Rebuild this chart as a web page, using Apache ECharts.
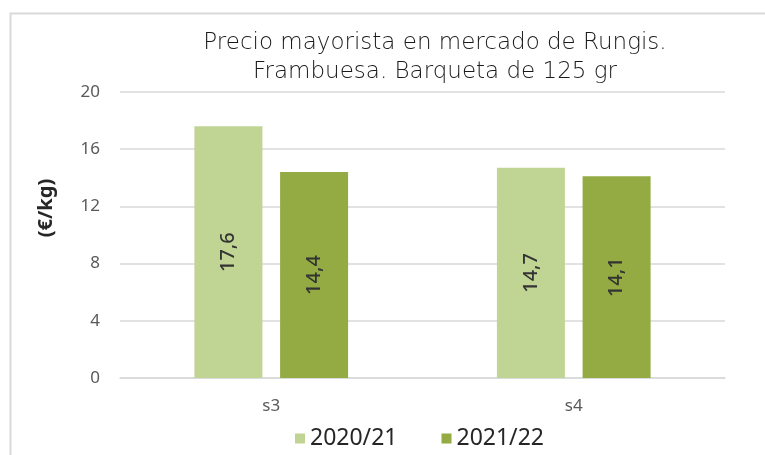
<!DOCTYPE html>
<html><head><meta charset="utf-8">
<script src="https://cdn.jsdelivr.net/npm/echarts@6/dist/echarts.min.js"></script>
<style>html,body{margin:0;padding:0;background:#fff}#c{width:765px;height:455px}</style>
</head><body><div id="c"></div>
<script>
const categories = ['s3', 's4'];
const seriesNames = ['2020/21', '2021/22'];
const values2020 = [17.6, 14.7];
const values2021 = [14.4, 14.1];
const yTicks = [0, 4, 8, 12, 16, 20];

const chart = echarts.init(document.getElementById('c'), null, {renderer: 'canvas'});
const lbl = {
  show: true, position: 'inside', rotate: 90,
  color: '#333', fontSize: 20, fontFamily: 'Noto Sans', fontWeight: 500,
  formatter: p => String(p.value).replace('.', ',')
};
chart.setOption({
  animation: false,
  graphic: [{
    type: 'rect', left: 8, top: 11,
    shape: {width: 800, height: 500},
    style: {fill: 'none', stroke: '#d9d9d9', lineWidth: 2}
  }],
  title: {
    text: 'Precio mayorista en mercado de Rungis.\nFrambuesa. Barqueta de 125 gr',
    left: 430, top: 24, textAlign: 'center',
    textStyle: {fontFamily: 'DejaVu Sans', fontWeight: 300, fontSize: 23, color: '#1a1a1a', lineHeight: 29}
  },
  legend: {
    bottom: 0, left: 290, itemWidth: 10, itemHeight: 10, itemGap: 44,
    icon: 'rect',
    textStyle: {fontFamily: 'Noto Sans', fontSize: 23, color: '#262626'},
    data: seriesNames
  },
  grid: {left: 120, right: 40, top: 92, bottom: 77},
  xAxis: {
    type: 'category', data: categories,
    axisLine: {lineStyle: {color: '#d9d9d9', width: 1.5}},
    axisTick: {show: false},
    axisLabel: {fontFamily: 'Noto Sans', fontSize: 17, color: '#595959', margin: 20}
  },
  yAxis: {
    type: 'value', min: yTicks[0], max: yTicks[yTicks.length - 1], interval: 4,
    name: '(€/kg)', nameLocation: 'middle', nameGap: 64, nameRotate: 90,
    nameTextStyle: {fontFamily: 'Noto Sans', fontWeight: 'bold', fontSize: 20, color: '#262626', padding: [0, 0, 0, 54]},
    axisLine: {show: false}, axisTick: {show: false},
    axisLabel: {fontFamily: 'Noto Sans', fontSize: 17, color: '#595959', margin: 20},
    splitLine: {lineStyle: {color: '#d9d9d9', width: 1.5}}
  },
  series: [
    {name: seriesNames[0], type: 'bar', data: values2020, barWidth: 68, barGap: '26%',
     itemStyle: {color: '#c0d494'}, label: lbl},
    {name: seriesNames[1], type: 'bar', data: values2021, barWidth: 68,
     itemStyle: {color: '#93ab42'}, label: lbl}
  ]
});
</script></body></html>
